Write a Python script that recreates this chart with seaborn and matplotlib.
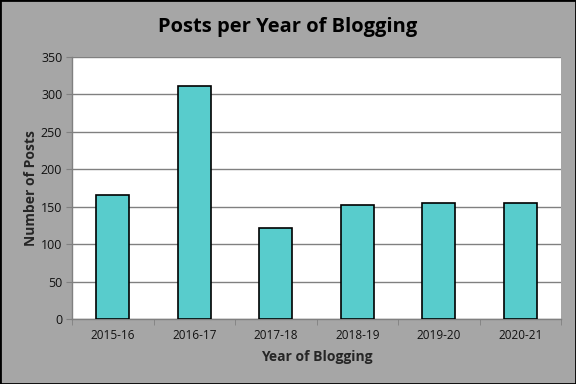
import matplotlib
matplotlib.use("Agg")
import matplotlib.pyplot as plt
import seaborn as sns
import pandas as pd
import numpy as np

years = ["2015-16", "2016-17", "2017-18", "2018-19", "2019-20", "2020-21"]
posts = [165, 311, 121, 152, 155, 155]

df = pd.DataFrame({"Year": years, "Posts": posts})

sns.set_style("white")
plt.rcParams["font.family"] = ["Open Sans", "DejaVu Sans"]

fig = plt.figure(figsize=(5.76, 3.84), dpi=100, facecolor="#a6a6a6")
ax = fig.add_axes([0.125, 0.169, 0.849, 0.683])
ax.set_facecolor("white")

sns.barplot(data=df, x="Year", y="Posts", ax=ax, color="#58cccc",
            saturation=1, width=0.4, edgecolor="black", linewidth=1.2, zorder=3)

ax.set_ylim(0, 350)
ax.set_xlim(-0.5, len(years) - 0.5)
ax.set_yticks(np.arange(0, 351, 50))
ax.yaxis.grid(True, color="#808080", linewidth=1, zorder=0)
ax.set_axisbelow(True)

for s in ["top", "right"]:
    ax.spines[s].set_visible(False)
for s in ["left", "bottom"]:
    ax.spines[s].set_color("#808080")
    ax.spines[s].set_linewidth(1)

ax.tick_params(axis="y", which="major", left=True, length=4, color="#808080",
               labelsize=9, labelcolor="#111111", pad=3)
ax.tick_params(axis="x", which="major", length=0, labelsize=8.5,
               labelcolor="#111111", pad=7)
ax.set_xticks(np.arange(-0.5, len(years), 1.0), minor=True)
ax.tick_params(axis="x", which="minor", bottom=True, length=4, color="#808080")

ax.set_xlabel("Year of Blogging", fontsize=10, fontweight="bold", labelpad=6)
ax.set_ylabel("Number of Posts", fontsize=10, fontweight="bold", labelpad=2)

fig.text(0.5, 0.93, "Posts per Year of Blogging", ha="center", va="center",
         fontsize=14.5, fontweight="bold", color="black")

border = plt.Rectangle((0, 0), 1, 1, transform=fig.transFigure, fill=False,
                       edgecolor="black", linewidth=2)
fig.patches.append(border)

fig.savefig("out.png", dpi=100, facecolor=fig.get_facecolor())
